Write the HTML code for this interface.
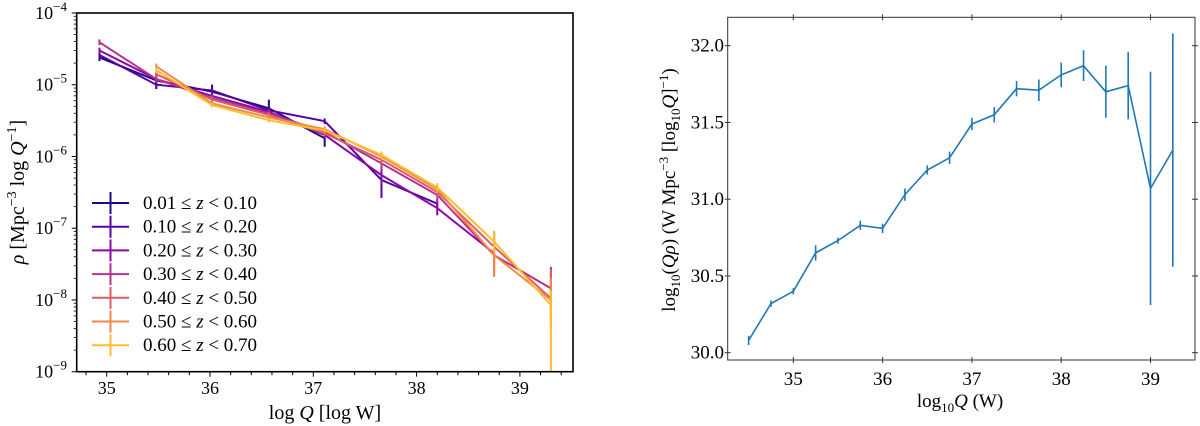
<!DOCTYPE html>
<html><head><meta charset="utf-8"><style>
body{margin:0;background:#fff}
svg{font-family:"Liberation Serif",serif;display:block}
</style></head><body>
<svg id="c" width="1200" height="426" xmlns="http://www.w3.org/2000/svg"></svg>
<script>
// Left panel data
const leftX = [34.93,35.48,36.02,36.57,37.11,37.66,38.20,38.75,39.30];
const zLabels = ["0.01 \u2264 ","0.10 \u2264 ","0.20 \u2264 ","0.30 \u2264 ","0.40 \u2264 ","0.50 \u2264 ","0.60 \u2264 "];
const zHigh = ["0.10","0.20","0.30","0.40","0.50","0.60","0.70"];
const colors = ["#1b0c8a","#5502a4","#8b0aa5","#b83289","#db5c68","#f48849","#febd2a"];
const s0 = [2.4e-5,1.15e-5,8.0e-6,4.7e-6,1.8e-6,null,null,null,null];
const s1 = [2.6e-5,1.0e-5,8.3e-6,4.4e-6,3.1e-6,4.7e-7,2.2e-7,null,null];
const s2 = [3.0e-5,1.2e-5,7.0e-6,4.2e-6,2.0e-6,5.5e-7,1.9e-7,4.5e-8,null];
const s3 = [3.9e-5,1.2e-5,6.5e-6,4.0e-6,2.2e-6,8.0e-7,2.9e-7,4.2e-8,1.45e-8];
const s4 = [null,1.4e-5,6.2e-6,3.8e-6,2.1e-6,9.0e-7,3.2e-7,5.5e-8,1.05e-8];
const s5 = [null,1.8e-5,5.5e-6,3.5e-6,2.4e-6,1.0e-6,3.5e-7,4.2e-8,1.0e-8];
const s6 = [null,1.6e-5,5.2e-6,3.2e-6,2.3e-6,1.05e-6,3.7e-7,6.5e-8,8.5e-9];
const e0 = [0.05,0.12,0.1,0.12,0.12,0,0,0,0];
const e1 = [0.04,0.06,0.05,0.05,0.04,0.25,0.06,0,0];
const e2 = [0.04,0.05,0.05,0.05,0.05,0.12,0.1,0.3,0];
const e3 = [0.04,0.04,0.04,0.04,0.04,0.08,0.1,0.3,0.3];
const e4 = [0,0.04,0.04,0.04,0.04,0.06,0.08,0.2,0.4];
const e5 = [0,0.04,0.04,0.04,0.04,0.05,0.06,0.3,0.3];
const e6 = [0,0.04,0.03,0.03,0.03,0.05,0.06,0.15,0.2];
const e6Low = [0,0.04,0.03,0.03,0.03,0.05,0.06,0.15,1.5];
const leftSeries=[s0,s1,s2,s3,s4,s5,s6], leftErr=[e0,e1,e2,e3,e4,e5,e6], leftErrLow=[e0,e1,e2,e3,e4,e5,e6Low];
const leftXTicks=[35,36,37,38,39];
const leftYTicks=[-4,-5,-6,-7,-8,-9];
// Right panel data
const rightX=[34.5,34.75,35,35.25,35.5,35.75,36,36.25,36.5,36.75,37,37.25,37.5,37.75,38,38.25,38.5,38.75,39,39.25];
const rightY=[30.08,30.32,30.40,30.65,30.73,30.83,30.81,31.03,31.19,31.27,31.49,31.55,31.72,31.71,31.81,31.87,31.70,31.74,31.07,31.32];
const rightErr=[0.03,0.02,0.02,0.05,0.02,0.03,0.03,0.04,0.03,0.04,0.04,0.05,0.05,0.07,0.08,0.10,0.17,0.22,0.76,0.76];
const rightXTicks=[35,36,37,38,39];
const rightYTicks=["30.0","30.5","31.0","31.5","32.0"];

const NS="http://www.w3.org/2000/svg", svg=document.getElementById('c');
function mk(t,a,p){const e=document.createElementNS(NS,t);for(const k in a)e.setAttribute(k,a[k]);(p||svg).appendChild(e);return e;}
// left axes
const L={x0:76.7,x1:573,y0:13,y1:371.7};
const lx=v=>106.7+(v-35)*103.3;
const ly=v=>13+(-4-Math.log10(v))*71.74;
const gL=mk('g',{});


for(let i=0;i<leftSeries.length;i++){
  const s=leftSeries[i];let d="";
  const g=mk('g',{},gL);
  
  
  s.forEach((v,j)=>{if(v==null)return;d+=(d?"L":"M")+lx(leftX[j]).toFixed(1)+","+ly(v).toFixed(1);});
  const p=mk('path',{d:d,fill:'none',stroke:colors[i],'stroke-width':2},g);
  
  
  s.forEach((v,j)=>{if(v==null||!leftErr[i][j])return;
    const yt=ly(v*Math.pow(10,leftErr[i][j])),yb=Math.min(L.y1,ly(v/Math.pow(10,leftErrLow[i][j])));
    const b=mk('line',{x1:lx(leftX[j]),x2:lx(leftX[j]),y1:yt,y2:yb,stroke:colors[i],'stroke-width':2},g);
    
    });
}
mk('rect',{x:L.x0,y:L.y0,width:L.x1-L.x0,height:L.y1-L.y0,fill:'none',stroke:'#000','stroke-width':1.6},gL);
for(let v=34.8;v<=39.5;v+=0.2){const x=lx(v);const maj=Math.abs(v-Math.round(v))<0.01;
  mk('line',{x1:x,x2:x,y1:L.y1,y2:L.y1+(maj?5:3.5),stroke:'#000','stroke-width':1},gL);}
leftXTicks.forEach(v=>{const t=mk('text',{x:lx(v),y:394,'text-anchor':'middle','font-size':18},gL);t.textContent=v;
  });
leftYTicks.forEach(v=>{const y=13+(-4-v)*71.74;
  mk('line',{x1:L.x0-5,x2:L.x0,y1:y,y2:y,stroke:'#000'},gL);
  if(v>-9)for(let m=2;m<10;m++){const yy=y+Math.log10(10/m)*71.74;mk('line',{x1:L.x0-3,x2:L.x0,y1:yy,y2:yy,stroke:'#000','stroke-width':0.8},gL);}
  const t=mk('text',{x:67,y:y+6,'text-anchor':'end','font-size':18},gL);
  t.innerHTML='10<tspan dy="-8" font-size="13">\u2212'+(-v)+'</tspan>';
  });
let t=mk('text',{x:325,y:419,'text-anchor':'middle','font-size':20},gL);
t.innerHTML='log <tspan font-style="italic">Q</tspan> [log W]';

t=mk('text',{x:0,y:0,'text-anchor':'middle','font-size':20,transform:'translate(24,192) rotate(-90)'},gL);
t.innerHTML='<tspan font-style="italic">\u03C1</tspan> [Mpc<tspan dy="-8" font-size="14">\u22123</tspan><tspan dy="8"> log </tspan><tspan font-style="italic">Q</tspan><tspan dy="-8" font-size="14">\u22121</tspan><tspan dy="8">]</tspan>';

const lg=mk('g',{},gL);


zLabels.forEach((s,i)=>{const y=203+i*23.7;
  const e=mk('g',{},lg);
  
  
  mk('line',{x1:92,x2:129,y1:y,y2:y,stroke:colors[i],'stroke-width':2},e);
  mk('line',{x1:110.5,x2:110.5,y1:y-11,y2:y+11,stroke:colors[i],'stroke-width':2},e);
  const tt=mk('text',{x:143,y:y+6,'font-size':19},e);
  tt.innerHTML=s+'<tspan font-style="italic">z</tspan> &lt; '+zHigh[i];});
// right axes
const R={x0:727.7,x1:1195,y0:17.3,y1:360};
const rx=v=>793.3+(v-35)*89.3;
const ry=v=>352.7-(v-30)*153.5;
const gR=mk('g',{});


let d="";rightX.forEach((v,j)=>{d+=(j?"L":"M")+rx(v).toFixed(1)+","+ry(rightY[j]).toFixed(1);});
const rp=mk('path',{d:d,fill:'none',stroke:'#1f77b4','stroke-width':1.6},gR);


rightX.forEach((v,j)=>{const b=mk('line',{x1:rx(v),x2:rx(v),y1:ry(rightY[j]+rightErr[j]),y2:ry(rightY[j]-rightErr[j]),stroke:'#1f77b4','stroke-width':1.6},gR);
  });
mk('rect',{x:R.x0,y:R.y0,width:R.x1-R.x0,height:R.y1-R.y0,fill:'none',stroke:'#333','stroke-width':1},gR);
rightXTicks.forEach(v=>{const x=rx(v);
  mk('line',{x1:x,x2:x,y1:R.y1-3,y2:R.y1+3,stroke:'#333'},gR);
  mk('line',{x1:x,x2:x,y1:R.y0-3,y2:R.y0+3,stroke:'#333'},gR);
  const tt=mk('text',{x:x,y:385,'text-anchor':'middle','font-size':19},gR);tt.textContent=v;
  });
rightYTicks.forEach(s=>{const y=ry(parseFloat(s));
  mk('line',{x1:R.x0-3,x2:R.x0+3,y1:y,y2:y,stroke:'#333'},gR);
  mk('line',{x1:R.x1-3,x2:R.x1+3,y1:y,y2:y,stroke:'#333'},gR);
  const tt=mk('text',{x:724,y:y+6,'text-anchor':'end','font-size':19},gR);tt.textContent=s;
  });
t=mk('text',{x:960,y:407,'text-anchor':'middle','font-size':19},gR);
t.innerHTML='log<tspan dy="5" font-size="13">10</tspan><tspan dy="-5" font-style="italic">Q</tspan> (W)';

t=mk('text',{x:0,y:0,'text-anchor':'middle','font-size':19,transform:'translate(675,190) rotate(-90)'},gR);
t.innerHTML='log<tspan dy="5" font-size="13">10</tspan><tspan dy="-5">(</tspan><tspan font-style="italic">Q\u03C1</tspan>) (W Mpc<tspan dy="-7" font-size="13">\u22123</tspan><tspan dy="7"> [log</tspan><tspan dy="5" font-size="13">10</tspan><tspan dy="-5" font-style="italic">Q</tspan>]<tspan dy="-7" font-size="13">\u22121</tspan><tspan dy="7">)</tspan>';

</script>
</body></html>
